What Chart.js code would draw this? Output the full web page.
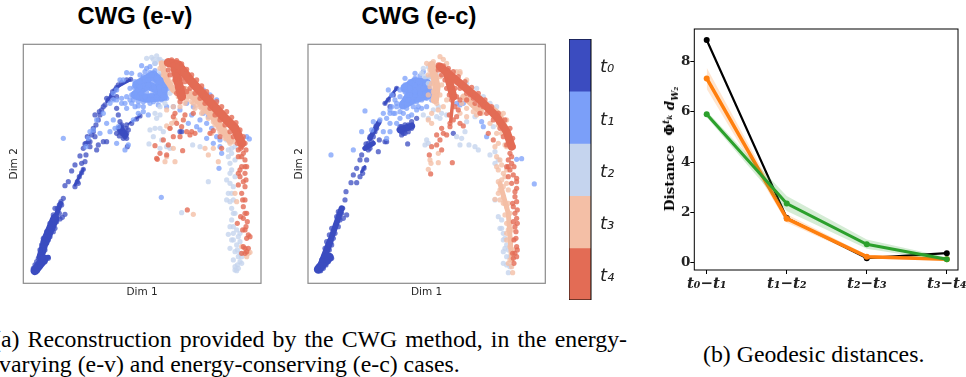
<!DOCTYPE html>
<html>
<head>
<meta charset="utf-8">
<script src="https://cdn.jsdelivr.net/npm/chart.js@4/dist/chart.umd.min.js"></script>
<style>
html, body { margin: 0; padding: 0; background: #fff; width: 966px; height: 377px; overflow: hidden; }
canvas { position: absolute; }
.txt { position: absolute; white-space: nowrap; color: #000; }
.title { font: bold 23.8px "Liberation Sans"; top: 2px; transform: translateX(-50%); }
.cap { font: 23.8px/24px "Liberation Serif"; }
#ylab { font: bold 13.5px "DejaVu Serif"; left: 669px; top: 149px; transform: translate(-50%, -50%) rotate(-90deg); }
#ylab sup, #ylab sub { font-size: 9px; line-height: 0; }
#ylab sup sub { font-size: 7px; }
</style>
</head>
<body>
<div class="txt title" style="left:135px">CWG (e-v)</div>
<div class="txt title" style="left:419px">CWG (e-c)</div>
<canvas id="scatterEv" width="270" height="260" style="left:0;top:40px"></canvas>
<canvas id="scatterEc" width="270" height="260" style="left:285px;top:40px"></canvas>
<canvas id="colorbar" width="70" height="261" style="left:569px;top:39px"></canvas>
<canvas id="distance" width="316" height="280" style="left:650px;top:20px"></canvas>
<div class="txt" id="ylab">Distance&nbsp;&nbsp;Φ<sup><i>t<sub>k</sub></i></sup> <i>d<sub>W₂</sub></i></div>
<div class="txt cap" style="left:-7px;top:327px;word-spacing:2.2px">(a) Reconstruction provided by the CWG method, in the energy-</div>
<div class="txt cap" style="left:-1px;top:352px">varying (e-v) and energy-conserving (e-c) cases.</div>
<div class="txt cap" style="left:703px;top:342px">(b) Geodesic distances.</div>
<script>
// Time steps and their colours
const timeLabels = ['t₀', 't₁', 't₂', 't₃', 't₄'];
const timeColors = ['#3b4cc0', '#7b9ff9', '#c5d4ee', '#f4bfa6', '#e36c55'];
const timeFade = ['rgba(59,76,192,0.75)', 'rgba(123,159,249,0.75)', 'rgba(197,212,238,0.8)', 'rgba(244,191,166,0.8)', 'rgba(227,108,85,0.8)'];

// Embedding values: e-v, dense stretches as [time step, stroke, points]
const evBands = [
    [0, 9, [[105,812],[118,795],[132,778]]],
    [0, 5, [[122,775],[145,772]]],
    [0, 8, [[122,770],[135,725]]],
    [0, 9, [[135,725],[165,655]]],
    [0, 5, [[165,655],[182,610]]],
    [0, 3, [[225,555],[250,508]]],
    [0, 3, [[320,305],[350,262],[390,240]]],
    [0, 7, [[360,385],[375,405]]],
    [0, 2, [[385,372],[420,348]]],
    [1, 9, [[410,255],[460,225],[490,255],[490,290],[440,295],[405,285],[440,255],[475,270]]],
    [3, 6, [[485,190],[500,240],[520,270]]],
    [3, 8, [[555,270],[600,305],[640,350],[690,420]]],
    [4, 9, [[505,188],[535,195],[570,240],[620,295],[670,350],[705,385],[725,430]]],
    [4, 9, [[525,205],[545,290]]]
];

// e-v, scattered points
const evT0 = [[190,595],[183,605],[178,615],[172,625],[195,643],[187,652],[180,657],[225,560],[232,545],[238,530],[245,518],[250,508],[235,550],[205,545],[195,557],[215,513],[225,495],[245,490],[255,485],[240,468],[258,465],[270,440],[250,445],[258,430],[265,425],[262,410],[275,405],[280,385],[288,375],[295,360],[300,345],[305,330],[315,315],[325,300],[335,285],[345,270],[355,255],[365,248],[380,240],[392,238],[350,262],[338,275],[320,295],[310,320],[285,345],[298,335],[280,395],[290,450],[295,435],[310,425],[320,425],[255,432],[270,425],[285,410],[350,325],[355,345],[360,365],[365,380],[370,395],[375,410],[360,395],[385,390],[372,405],[365,385],[380,375],[395,370],[410,357],[420,348],[380,415],[382,440],[350,400],[540,395],[545,395],[350,290],[340,295],
    [100,805],[105,795],[110,785],[115,775],[125,790],[120,800],[112,812],[135,785],[145,775],[125,755],[135,750],[120,750],[125,735],[140,730],[145,720],[130,715],[150,710],[160,695],[140,695],[165,685],[150,670],[170,665],[160,645],[178,640],[165,625],[185,615],[355,385],[365,375],[378,385],[365,400],[380,400],[370,415],[358,408]];
const evT1 = [[190,415],[484,592],[657,505],[740,410],[748,417],[380,218],[360,240],[425,197],[450,200],[465,190],[440,205],[395,220],[370,240],[350,270],[340,300],[330,310],[310,340],[290,360],[280,390],[270,395],[265,415],[258,440],[300,400],[320,370],[340,360],[355,380],[345,385],[330,395],[350,430],[375,450],[385,435],[400,360],[415,340],[430,320],[445,345],[380,325],[365,310],[405,320],[390,300],[430,335],[500,320],[520,320],[540,330],[560,310],[580,320],[575,345],[600,360],[620,370],[635,385],[650,410],[660,420],[640,430],[620,415],[600,390],[590,380],[565,370],[610,340],[625,350],[660,440],[665,460],[610,270],[630,285],[650,300],
    [405,245],[420,225],[435,215],[450,218],[465,212],[478,225],[488,240],[470,235],[452,238],[435,240],[418,245],[402,262],[415,270],[428,258],[445,255],[462,262],[478,262],[492,270],[505,265],[395,285],[410,290],[425,280],[440,278],[455,285],[470,290],[485,300],[500,295],[380,290],[395,310],[415,318],[430,305],[445,300],[460,305],[475,315],[365,295],[350,300],[375,310],[340,280],[430,230],[445,240],[460,250],[420,260],[440,265],[465,275],[480,280],[435,290],[405,280],[470,300],[450,310],[415,305],[495,255],[490,290],[455,225],[390,265],[400,300]];
const evT2 = [[440,175],[455,172],[470,168],[475,180],[465,190],[490,200],[480,215],[500,230],[510,280],[495,310],[480,320],[465,340],[480,345],[470,355],[450,390],[465,385],[480,385],[490,395],[447,432],[460,410],[485,420],[500,440],[510,445],[480,445],[578,435],[625,545],[545,638],[600,440],[680,420],[690,425],[695,445],[685,470],[690,490],[695,510],[680,540],[690,550],[700,560],[695,580],[690,605],[700,600],[695,625],[705,640],[695,660],[700,680],[710,690],[685,703],[700,700],[715,710],[720,725],[710,735],[690,745],[715,770],[720,785],[705,800],[712,795],[725,790],[710,812],[705,755],[700,720],
    [695,460],[705,480],[685,450],[705,440],[690,520],[705,530],[685,580],[680,600],[700,640],[690,680],[720,700],[695,720],[712,750],[700,780],[720,760],[725,770],[705,810],[715,805],[460,178],[480,178],[490,185]];
const evT3 = [[485,195],[490,210],[500,225],[520,245],[535,290],[555,280],[570,290],[585,300],[600,320],[615,325],[630,345],[640,365],[655,385],[675,400],[690,415],[700,425],[520,320],[500,378],[510,385],[515,370],[525,360],[500,330],[540,320],[560,300],[580,310],[650,370],[665,395],[680,405],[615,445],[625,465],[655,485],[525,485],[495,485],[500,470],[520,445],[710,605],[745,760],[750,757],[740,770],[580,643],[725,740],[705,580],[720,470],[640,445],[635,400],[605,340],
    [545,265],[560,290],[575,305],[590,315],[610,335],[625,355],[645,375],[660,395],[675,415],[690,430],[605,325],[585,325],[555,310],[480,205],[490,225],[505,240],[515,260],[525,275],[630,310],[650,330]];
const evT4 = [[725,440],[730,460],[735,480],[725,500],[735,520],[720,530],[730,545],[735,560],[725,580],[735,600],[730,620],[740,640],[730,655],[735,690],[745,705],[740,715],[735,745],[745,745],[730,740],[715,520],[715,555],[712,670],[722,650],[725,470],[715,470],[740,500],[562,630],[465,437],[472,478],[480,460],[500,465],[548,452],[520,410],[510,385],[530,370],[550,360],[525,340],[555,345],[580,340],[575,395],[560,395],[570,405],[585,400],[630,400],[640,392],[660,410],[665,445],[545,380],[520,350],[490,420],[505,435],[470,475],[540,410],
    [515,180],[530,182],[545,192],[560,208],[575,225],[590,240],[605,258],[620,275],[635,290],[650,305],[665,320],[680,335],[695,352],[708,368],[720,390],[730,410],[735,430],[738,450],[505,210],[510,225],[525,240],[535,260],[530,280],[540,305],[560,275],[570,265],[585,280],[600,295],[615,310],[630,325],[645,345],[660,360],[675,375],[690,395],[700,410],[712,430],[715,450],[520,195],[535,215],[545,235],[550,265],[530,225],[555,245],
    [730,430],[722,445],[735,500],[720,510],[738,540],[728,600],[735,640],[742,665],[738,680],[750,710],[728,690],[725,760],[740,755],[735,760]];

// e-c, dense stretches
const ecBands = [
    [0, 9, [[85,808],[100,790],[118,772]]],
    [0, 7, [[95,790],[120,725]]],
    [0, 6, [[120,725],[155,625]]],
    [0, 3, [[215,515],[225,500]]],
    [0, 5, [[225,445],[250,430]]],
    [0, 5, [[240,415],[265,370]]],
    [0, 7, [[330,390],[365,378]]],
    [0, 3, [[285,310],[320,265]]],
    [1, 9, [[345,265],[375,245],[410,250],[412,285],[375,295],[340,315],[370,270],[400,268]]],
    [3, 8, [[425,195],[440,260],[435,300]]],
    [3, 6, [[520,290],[570,335]]],
    [3, 4, [[590,310],[630,340],[665,420]]],
    [3, 5, [[630,550],[655,640],[665,780]]],
    [4, 8, [[450,200],[510,250],[570,300],[620,350],[650,395],[665,440]]],
    [4, 8, [[470,215],[490,290]]],
    [4, 3.5, [[490,290],[482,365]]]
];

// e-c, scattered points
const ecT0 = [[170,645],[160,655],[165,600],[168,575],[200,548],[183,548],[190,525],[210,530],[218,520],[222,505],[200,505],[215,465],[210,480],[230,480],[240,445],[230,440],[235,430],[225,445],[240,415],[250,410],[255,395],[265,370],[260,385],[268,420],[285,425],[290,425],[265,455],[285,310],[295,300],[310,285],[320,265],[300,320],[330,380],[345,390],[355,395],[340,400],[355,375],[365,365],[380,355],[335,395],[353,432],[490,400],[350,385],
    [85,800],[92,812],[100,805],[108,795],[115,785],[125,775],[95,780],[102,768],[112,765],[118,750],[105,745],[125,735],[110,725],[130,715],[118,705],[135,700],[125,685],[145,680],[140,650],[150,660],[155,640],[145,635],[158,625],[240,435],[228,432],[245,425],[235,450],[250,395],[268,365],[258,378],[240,410],[335,380],[345,375],[355,385],[365,385],[345,400],[335,405]];
const ecT1 = [[225,333],[123,465],[190,450],[733,552],[680,478],[695,476],[295,270],[305,285],[345,235],[375,220],[400,215],[420,230],[280,340],[270,360],[290,355],[300,370],[310,340],[340,340],[355,350],[380,330],[395,325],[410,320],[425,300],[320,370],[300,395],[280,395],[290,415],[330,355],[500,310],[510,315],[520,310],[575,365],[580,380],[590,410],[365,345],[215,395],[250,365],[245,390],
    [330,270],[345,255],[360,245],[375,235],[390,228],[405,235],[420,250],[405,255],[390,250],[375,255],[360,265],[345,275],[330,290],[315,300],[345,295],[360,285],[375,285],[390,280],[405,280],[420,270],[425,285],[410,295],[395,300],[380,305],[365,305],[350,310],[335,310],[320,320],[305,320],[300,340],[315,340],[330,335],[350,325],[370,320],[385,320],[340,260],[365,250],[385,245],[400,265],[375,275],[350,285],[320,310],[410,280],[385,300],[355,300],[335,320],[300,330]];
const ecT2 = [[415,200],[430,210],[420,230],[405,230],[415,250],[440,225],[400,345],[415,355],[440,350],[430,330],[445,320],[455,340],[410,420],[405,435],[415,430],[450,355],[470,345],[500,410],[515,415],[525,395],[510,435],[537,435],[555,440],[565,450],[530,365],[555,350],[600,465],[615,490],[610,380],[625,480],[615,600],[625,650],[635,685],[640,700],[650,735],[655,750],[650,770],[640,790],[660,800],[655,818],[645,715],[615,455],[530,250],[560,265],[580,290],[600,310],[620,320],
    [635,660],[630,685],[640,720],[645,745],[660,770],[640,755],[650,795],[400,205],[425,190],[395,220]];
const ecT3 = [[410,190],[430,185],[450,170],[460,178],[470,190],[510,215],[420,260],[430,300],[425,340],[445,330],[425,370],[415,360],[460,320],[470,300],[510,340],[530,350],[575,340],[570,320],[600,370],[620,400],[635,400],[625,430],[650,440],[615,440],[630,480],[625,510],[640,520],[635,540],[615,598],[630,570],[625,545],[645,610],[650,620],[640,590],[660,670],[655,690],[665,720],[660,780],[668,818],[423,490],[415,508],[445,488],[445,460],[420,480],[640,340],[650,360],[510,220],[530,240],
    [420,210],[415,225],[440,205],[450,230],[455,255],[425,250],[430,275],[450,285],[415,285],[440,310],[500,215],[540,300],[515,310],[530,325],[550,335],[575,330],[560,345],[600,330],[620,350],[635,375],[625,375],[610,350],[645,435],[620,470],[635,495],[645,530],[650,550],[625,580],[640,610],[630,600],[655,610],[645,645],[660,640],[650,670],[665,690],[650,700],[660,740],[670,750],[650,720],[665,800],[655,790],[640,560],[655,570],[650,510],[620,500]];
const ecT4 = [[660,460],[655,480],[665,490],[660,510],[670,525],[680,535],[665,550],[680,565],[675,590],[680,605],[670,620],[675,640],[680,655],[675,680],[678,715],[680,740],[675,760],[670,775],[650,500],[655,530],[540,285],[555,310],[580,320],[530,300],[500,350],[520,378],[510,370],[455,385],[460,400],[440,405],[450,420],[470,405],[480,380],[425,440],[440,435],[455,450],[422,522],[487,488],[418,465],[570,340],[595,400],[610,420],[500,290],[510,300],
    [445,195],[460,198],[475,205],[490,215],[505,230],[525,245],[545,262],[565,280],[585,300],[605,320],[625,340],[645,360],[660,385],[668,415],[670,440],[445,210],[455,225],[465,240],[470,265],[478,285],[495,265],[510,265],[530,280],[550,295],[570,315],[590,340],[610,360],[630,385],[640,410],[650,435],[485,300],[495,320],[478,345],[490,360],[480,370],[505,330],
    [665,470],[672,500],[655,500],[680,545],[675,575],[668,610],[682,630],[670,665],[682,670],[678,695],[672,720],[682,750],[668,760],[672,790],[680,770]];

// Geodesic distances
const stepLabels = ['t₀−t₁', 't₁−t₂', 't₂−t₃', 't₃−t₄'];
const stepPositions = [0, 1, 2, 3];
const distanceTicks = [0, 2, 4, 6, 8];
const blackValues = [8.85, 1.78, 0.18, 0.38];
const orangeValues = [7.32, 1.75, 0.24, 0.14];
const orangeHigh = [7.75, 1.92, 0.32, 0.2];
const orangeLow = [6.9, 1.6, 0.17, 0.08];
const greenValues = [5.9, 2.35, 0.73, 0.14];
const greenHigh = [6.02, 2.65, 0.92, 0.22];
const greenLow = [5.78, 2.05, 0.55, 0.06];

// Draws the box around a plot
const framePlugin = {
    id: 'frame',
    afterDraw(chart, args, opts) {
        const a = chart.chartArea;
        const c = chart.ctx;
        c.save();
        c.strokeStyle = opts.color;
        c.lineWidth = opts.width;
        c.strokeRect(a.left, a.top, a.right - a.left, a.bottom - a.top);
        c.restore();
    }
};
Chart.register(framePlugin);

// Chart.js paints the first dataset on top, so the last time step goes first
function cloudDatasets(scattered, bands) {
    const sets = [];
    for (let i = 4; i >= 0; i--) {
        sets.push({ data: scattered[i], backgroundColor: timeFade[i], pointRadius: 2.6, pointBorderWidth: 0 });
        bands.filter(b => b[0] === i).forEach(b => {
            sets.push({ data: b[2], showLine: true, borderColor: timeColors[i], borderWidth: b[1], borderCapStyle: 'round', borderJoinStyle: 'round', pointRadius: 0 });
        });
    }
    return sets;
}

function makeCloud(id, scattered, bands, xMin, xMax, yPad, yAxisWidth) {
    new Chart(document.getElementById(id), {
        type: 'scatter',
        data: { datasets: cloudDatasets(scattered, bands) },
        options: {
            responsive: false,
            animation: false,
            layout: { padding: { top: 4.3, right: id === 'scatterEv' ? 9 : 9.7, bottom: 0, left: yPad } },
            plugins: { legend: { display: false }, tooltip: { enabled: false }, frame: { color: '#8a8a8a', width: 1.2 } },
            scales: {
                x: {
                    min: xMin, max: xMax,
                    grid: { display: false }, border: { display: false },
                    ticks: { display: false },
                    title: { display: true, text: 'Dim 1', color: '#262626', font: { family: 'DejaVu Sans', size: 10.5 }, padding: { top: 0, bottom: 1 } },
                    afterFit(scale) { scale.height = 16.7; }
                },
                y: {
                    min: 133, max: 850, reverse: true,
                    grid: { display: false }, border: { display: false },
                    ticks: { display: false },
                    title: { display: true, text: 'Dim 2', color: '#262626', font: { family: 'DejaVu Sans', size: 10.5 }, padding: { top: 0, bottom: 0 } },
                    afterFit(scale) { scale.width = yAxisWidth; }
                }
            }
        }
    });
}

makeCloud('scatterEv', [evT0, evT1, evT2, evT3, evT4], evBands, 70, 783, 8, 15.3);
makeCloud('scatterEc', [ecT0, ecT1, ecT2, ecT3, ecT4], ecBands, 54, 766, 8, 15);

// Colour key
new Chart(document.getElementById('colorbar'), {
    type: 'bar',
    data: {
        labels: [''],
        datasets: timeLabels.map((label, i) => ({ label: label, data: [1], backgroundColor: timeColors[i], barPercentage: 1, categoryPercentage: 1 }))
    },
    options: {
        responsive: false,
        animation: false,
        plugins: { legend: { display: false }, tooltip: { enabled: false } },
        scales: {
            x: { stacked: true, display: false },
            y: {
                stacked: true, reverse: true, position: 'right', min: 0, max: 5,
                grid: { display: false, drawTicks: false }, border: { display: false },
                afterBuildTicks(scale) { scale.ticks = timeLabels.map((l, i) => ({ value: i + 0.55 })); },
                ticks: {
                    padding: 9, color: '#222',
                    font: { family: 'DejaVu Sans', style: 'italic', size: 18 },
                    callback(value) { return timeLabels[Math.floor(value)]; }
                },
                afterFit(scale) { scale.width = 48; scale.paddingTop = 0; scale.paddingBottom = 0; }
            }
        }
    }
});

// Line chart
const serifBold = { family: 'DejaVu Serif', weight: 'bold', size: 13.5 };
new Chart(document.getElementById('distance'), {
    type: 'line',
    data: {
        labels: stepLabels,
        datasets: [
            { data: greenValues, borderColor: '#2ca02c', backgroundColor: '#2ca02c', borderWidth: 3, pointRadius: 3, order: 1 },
            { data: greenHigh, borderWidth: 0, pointRadius: 0, fill: '+1', backgroundColor: 'rgba(44,160,44,0.2)', order: 2 },
            { data: greenLow, borderWidth: 0, pointRadius: 0, order: 2 },
            { data: orangeValues, borderColor: '#ff7f0e', backgroundColor: '#ff7f0e', borderWidth: 3.5, pointRadius: 3, order: 3 },
            { data: orangeHigh, borderWidth: 0, pointRadius: 0, fill: '+1', backgroundColor: 'rgba(255,127,14,0.2)', order: 4 },
            { data: orangeLow, borderWidth: 0, pointRadius: 0, order: 4 },
            { data: blackValues, borderColor: '#000', backgroundColor: '#000', borderWidth: 2.2, pointRadius: 3, order: 5 }
        ].map(d => ({ ...d, tension: 0, pointBorderWidth: 0, parsing: false, data: d.data.map((v, i) => ({ x: stepPositions[i], y: v })) }))
    },
    options: {
        responsive: false,
        animation: false,
        layout: { padding: { top: 9, right: 8, bottom: 0, left: 0 } },
        plugins: { legend: { display: false }, tooltip: { enabled: false }, frame: { color: '#000', width: 1 } },
        scales: {
            x: {
                type: 'linear', min: -0.155, max: 3.14,
                grid: { drawOnChartArea: false, color: '#000', tickLength: 4 }, border: { display: false },
                afterBuildTicks(scale) { scale.ticks = stepPositions.map(v => ({ value: v })); },
                ticks: {
                    autoSkip: false, maxRotation: 0, padding: 1, color: '#222',
                    font: { ...serifBold, style: 'italic', size: 15 },
                    callback(value) { return stepLabels[value]; }
                },
                afterFit(scale) { scale.height = 30; scale.paddingLeft = 0; scale.paddingRight = 0; }
            },
            y: {
                min: -0.29, max: 9.285,
                grid: { drawOnChartArea: false, color: '#000', tickLength: 4 }, border: { display: false },
                afterBuildTicks(scale) { scale.ticks = distanceTicks.map(v => ({ value: v })); },
                ticks: { padding: 0, color: '#222', font: serifBold },
                afterFit(scale) { scale.width = 44.3; scale.paddingTop = 0; scale.paddingBottom = 0; }
            }
        }
    }
});
</script>
</body>
</html>
